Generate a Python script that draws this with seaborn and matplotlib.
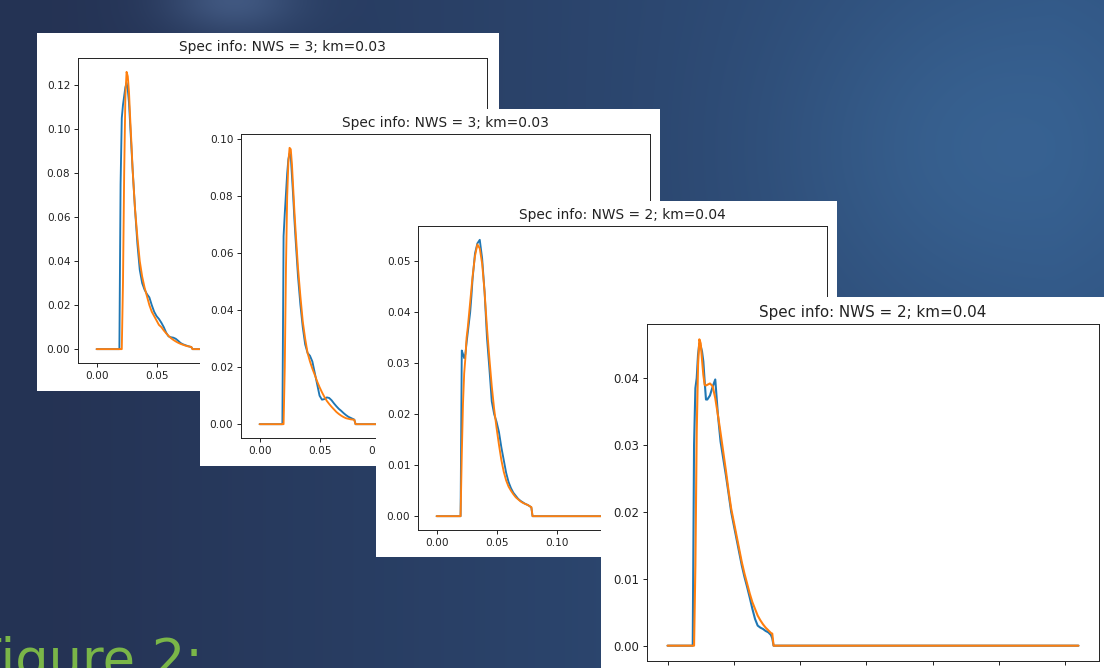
import numpy as np
import matplotlib
matplotlib.use("Agg")
import matplotlib.pyplot as plt
import seaborn as sns

# ---------------- data ----------------
X = [0.000, 0.019, 0.020, 0.021, 0.022, 0.023, 0.024, 0.025, 0.026, 0.027,
     0.028, 0.029, 0.030, 0.032, 0.034, 0.036, 0.038, 0.040, 0.042, 0.044,
     0.046, 0.048, 0.050, 0.052, 0.054, 0.056, 0.058, 0.060, 0.062, 0.064,
     0.066, 0.068, 0.070, 0.072, 0.074, 0.076, 0.078, 0.079, 0.080, 0.310]

# Panel 1: NWS = 3; km=0.03
blue1 = [0, 0, 0.075, 0.105, 0.111, 0.115, 0.119, 0.121, 0.118, 0.112,
         0.102, 0.092, 0.082, 0.064, 0.048, 0.036, 0.030, 0.027, 0.025, 0.0235,
         0.020, 0.017, 0.0150, 0.0137, 0.0120, 0.0100, 0.0075, 0.0058, 0.0054, 0.0052,
         0.0047, 0.0038, 0.0028, 0.0022, 0.0018, 0.0014, 0.0011, 0.0009, 0, 0]
orange1 = [0, 0, 0, 0, 0.030, 0.080, 0.115, 0.126, 0.124, 0.117,
           0.105, 0.094, 0.082, 0.064, 0.051, 0.040, 0.033, 0.028, 0.024, 0.020,
           0.017, 0.015, 0.013, 0.011, 0.0100, 0.0085, 0.0072, 0.0060, 0.0050, 0.0042,
           0.0035, 0.0029, 0.0024, 0.0020, 0.0016, 0.0013, 0.0011, 0.0010, 0, 0]

# Panel 2: NWS = 3; km=0.03
blue2 = [0, 0, 0.066, 0.074, 0.081, 0.088, 0.093, 0.095, 0.094, 0.087,
         0.080, 0.072, 0.065, 0.052, 0.042, 0.034, 0.028, 0.025, 0.024, 0.022,
         0.018, 0.014, 0.010, 0.0086, 0.0088, 0.0094, 0.0092, 0.0084, 0.0073, 0.0063,
         0.0054, 0.0047, 0.0039, 0.0032, 0.0026, 0.0022, 0.0018, 0.0016, 0, 0]
orange2 = [0, 0, 0, 0.020, 0.055, 0.080, 0.092, 0.097, 0.0965, 0.091,
           0.083, 0.075, 0.068, 0.055, 0.045, 0.036, 0.030, 0.025, 0.022, 0.0195,
           0.0173, 0.015, 0.013, 0.0112, 0.0096, 0.0082, 0.0071, 0.0061, 0.0052, 0.0043,
           0.0036, 0.0030, 0.0025, 0.0021, 0.0019, 0.0017, 0.0016, 0.0015, 0, 0]

# Panel 3: NWS = 2; km=0.04
blue3 = [0, 0, 0, 0.0325, 0.0318, 0.0310, 0.0318, 0.0340, 0.0360, 0.0380,
         0.0400, 0.0430, 0.0465, 0.0515, 0.0535, 0.0542, 0.0505, 0.0440, 0.0350, 0.0290,
         0.0225, 0.0200, 0.0185, 0.0165, 0.0135, 0.0110, 0.0085, 0.0067, 0.0055, 0.0046,
         0.0040, 0.0034, 0.0030, 0.0027, 0.0024, 0.0022, 0.0019, 0.0017, 0, 0]
orange3 = [0, 0, 0, 0.012, 0.022, 0.028, 0.031, 0.035, 0.037, 0.0395,
           0.0420, 0.0445, 0.0470, 0.0510, 0.0533, 0.0525, 0.0495, 0.0440, 0.0370, 0.0310,
           0.0255, 0.0210, 0.0173, 0.0140, 0.0110, 0.0087, 0.0070, 0.0058, 0.0050, 0.0043,
           0.0037, 0.0033, 0.0029, 0.0026, 0.0024, 0.0022, 0.0019, 0.0018, 0, 0]

# Panel 4: NWS = 2; km=0.04
blue4 = [0, 0, 0.030, 0.0385, 0.0400, 0.0435, 0.0452, 0.0448, 0.0440, 0.0425,
         0.0395, 0.0368, 0.0368, 0.0374, 0.0387, 0.0398, 0.0345, 0.0305, 0.0280, 0.0255,
         0.0228, 0.0200, 0.0180, 0.0160, 0.0140, 0.0120, 0.0103, 0.0088, 0.0072, 0.0055,
         0.0040, 0.0030, 0.0027, 0.0025, 0.0022, 0.0020, 0.0016, 0.0011, 0, 0]
orange4 = [0, 0, 0, 0.012, 0.032, 0.042, 0.0458, 0.0452, 0.0428, 0.0405,
           0.0390, 0.0389, 0.0390, 0.0392, 0.0388, 0.0370, 0.0345, 0.0318, 0.0290, 0.0262,
           0.0232, 0.0205, 0.0185, 0.0165, 0.0145, 0.0125, 0.0108, 0.0093, 0.0078, 0.0065,
           0.0055, 0.0045, 0.0038, 0.0032, 0.0027, 0.0023, 0.0019, 0.0018, 0, 0]

titles = ["Spec info: NWS = 3; km=0.03", "Spec info: NWS = 3; km=0.03",
          "Spec info: NWS = 2; km=0.04", "Spec info: NWS = 2; km=0.04"]
series = [(blue1, orange1), (blue2, orange2), (blue3, orange3), (blue4, orange4)]
caption = "Figure 2:"

# ---------------- layout (pixels in a 1104 x 668 canvas) ----------------
W, H = 1104, 668
# (white card box), (axes box) as (left, top, right, bottom)
cards = [(37, 33, 499, 391), (200, 109, 660, 466), (376, 201, 837, 557), (601, 297, 1112, 700)]
axboxes = [(78, 58, 487, 363), (241, 134, 650, 438), (418, 226, 827, 530), (647, 324, 1099, 661)]
tick_fs = [7.6, 7.6, 7.6, 8.4]
title_fs = [9.9, 9.9, 9.9, 10.9]
line_w = [1.35, 1.35, 1.35, 1.5]


def frac(box):
    l, t, r, b = box
    return [l / W, 1 - b / H, (r - l) / W, (b - t) / H]


sns.set_style("ticks")
plt.rcParams["font.family"] = ["DejaVu Sans"]

fig = plt.figure(figsize=(W / 100, H / 100), dpi=100)

# slide background
bgax = fig.add_axes([0, 0, 1, 1], zorder=0)
yy, xx = np.mgrid[0:H, 0:W]
u = xx / W
v = yy / H
left_col = np.array([0.145, 0.200, 0.330])
right_col = np.array([0.190, 0.330, 0.510])
t = np.clip(u * 1.1 - 0.05, 0, 1)[..., None]
img = left_col * (1 - t) + right_col * t
blob = np.exp(-(((u - 0.88) / 0.18) ** 2 + ((v - 0.22) / 0.25) ** 2))[..., None]
img = img + blob * np.array([0.03, 0.06, 0.07])
blob2 = np.exp(-(((u - 0.21) / 0.06) ** 2 + ((v - 0.0) / 0.05) ** 2))[..., None]
img = img + blob2 * np.array([0.10, 0.12, 0.14])
img = np.clip(img, 0, 1)
bgax.imshow(img, aspect="auto", extent=[0, 1, 0, 1], origin="upper")
bgax.set_axis_off()

pal = sns.color_palette("tab10")

for i in range(4):
    card = fig.add_axes(frac(cards[i]), zorder=2 * i + 1)
    card.set_facecolor("white")
    card.set_xticks([])
    card.set_yticks([])
    for s in card.spines.values():
        s.set_visible(False)

    ax = fig.add_axes(frac(axboxes[i]), zorder=2 * i + 2)
    ax.set_facecolor("white")
    b, o = series[i]
    sns.lineplot(x=X, y=b, ax=ax, color=pal[0], linewidth=line_w[i])
    sns.lineplot(x=X, y=o, ax=ax, color=pal[1], linewidth=line_w[i])
    ax.set_title(titles[i], fontsize=title_fs[i], color="#222222", pad=5)
    ax.tick_params(labelsize=tick_fs[i], length=3.0, width=0.7, colors="#222222", pad=2.5)
    ax.set_xticks([0.00, 0.05, 0.10, 0.15, 0.20, 0.25, 0.30])
    ax.xaxis.set_major_formatter(matplotlib.ticker.FormatStrFormatter("%.2f"))
    ax.yaxis.set_major_formatter(matplotlib.ticker.FormatStrFormatter("%.2f"))
    for s in ax.spines.values():
        s.set_visible(True)
        s.set_linewidth(0.7)
        s.set_color("#222222")

fig.text(203 / W, 1 - 676.5 / H, caption, ha="right", va="baseline",
         fontsize=38, color="#7ab648", family=["DejaVu Sans"],
         fontweight="normal", zorder=20)

fig.savefig("out.png", dpi=100)
